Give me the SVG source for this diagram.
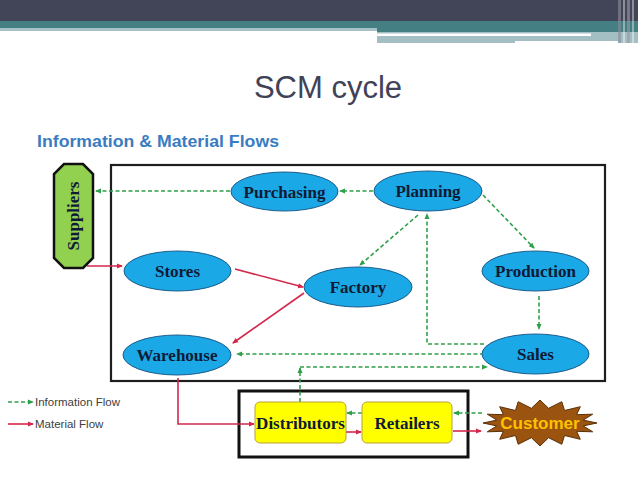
<svg xmlns="http://www.w3.org/2000/svg" width="638" height="479" viewBox="0 0 638 479">
<style>
.ell{fill:#1ba8e6;stroke:#1d5d8a;stroke-width:1}
.nt{font-family:"Liberation Serif","Times New Roman",serif;font-weight:bold;font-size:17px;fill:#0e1a36;text-anchor:middle}
.info{fill:none;stroke:#2fa04a;stroke-width:1.6;stroke-dasharray:4 2.5}
.mat{fill:none;stroke:#d3284c;stroke-width:1.6}
.box{fill:#ffff00;stroke:#b8a23a;stroke-width:1}
.lg{font-family:"Liberation Sans",Arial,sans-serif;font-size:11.5px;fill:#404040}
</style>
<defs>
<marker id="ag" markerWidth="6" markerHeight="6" refX="5" refY="3" orient="auto" markerUnits="userSpaceOnUse"><path d="M0,0.5 L6,3 L0,5.5 Z" fill="#2fa04a"/></marker>
<marker id="ar" markerWidth="6" markerHeight="6" refX="5" refY="3" orient="auto" markerUnits="userSpaceOnUse"><path d="M0,0.5 L6,3 L0,5.5 Z" fill="#d3284c"/></marker>
</defs>
<rect width="638" height="479" fill="#ffffff"/>
<g id="header">
<rect x="0" y="0" width="638" height="21" fill="#424457"/>
<rect x="0" y="21" width="638" height="7" fill="#447f83"/>
<rect x="0" y="28" width="377" height="3" fill="#a7c2c6"/>
<rect x="377" y="28" width="261" height="4" fill="#447f83"/>
<rect x="377" y="32" width="261" height="11" fill="#a3bfc4"/>
<rect x="377" y="33.5" width="214" height="2.5" fill="#ffffff"/>
<rect x="515" y="41" width="103" height="2" fill="#ffffff"/>
<rect x="618" y="0" width="3" height="43" fill="#8c8c99" opacity="0.6"/>
<rect x="623" y="0" width="2" height="43" fill="#ffffff" opacity="0.4"/>
<rect x="627" y="0" width="3" height="43" fill="#9a9aa6" opacity="0.6"/>
<rect x="632" y="0" width="2" height="43" fill="#ffffff" opacity="0.4"/>
</g>
<text x="328" y="98" font-family="Liberation Sans,Arial,sans-serif" font-size="31" fill="#404258" text-anchor="middle">SCM cycle</text>
<text x="37" y="147" font-family="Liberation Sans,Arial,sans-serif" font-weight="bold" font-size="17" fill="#3a7cc0" textLength="242" lengthAdjust="spacingAndGlyphs">Information &amp; Material Flows</text>
<rect x="111" y="165" width="494" height="216" fill="none" stroke="#1e1e1e" stroke-width="2.2"/>
<rect x="239" y="391" width="229" height="66" fill="none" stroke="#111111" stroke-width="3"/>
<g id="connectors">
<path class="info" d="M230,191 H96" marker-end="url(#ag)"/>
<path class="info" d="M373,191 H340" marker-end="url(#ag)"/>
<path class="info" d="M418,215 L360,265" marker-end="url(#ag)"/>
<path class="info" d="M483,195 L534,248" marker-end="url(#ag)"/>
<path class="info" d="M539,296 V329" marker-end="url(#ag)"/>
<path class="info" d="M484,344 H427 V214" marker-end="url(#ag)"/>
<path class="info" d="M484,354 H237" marker-end="url(#ag)"/>
<path class="info" d="M300,402 V368" marker-end="url(#ag)"/>
<path class="info" d="M300,367 H487" marker-end="url(#ag)"/>
<path class="info" d="M362,413 H347" marker-end="url(#ag)"/>
<path class="info" d="M482,413 H454" marker-end="url(#ag)"/>
<path class="mat" d="M87,266 H122" marker-end="url(#ar)"/>
<path class="mat" d="M235,269 L303,287" marker-end="url(#ar)"/>
<path class="mat" d="M304,293 L233,343" marker-end="url(#ar)"/>
<path class="mat" d="M178,378 V424 H254" marker-end="url(#ar)"/>
<path class="mat" d="M346,432 H361" marker-end="url(#ar)"/>
<path class="mat" d="M453,431 H481" marker-end="url(#ar)"/>
</g>
<g id="suppliers">
<path d="M64,164 H83 L93,174 V258 L83,268 H64 L54,258 V174 Z" fill="#92d050" stroke="#111" stroke-width="2.5"/>
<text class="nt" transform="translate(79,216) rotate(-90)" font-size="18">Suppliers</text>
</g>
<g id="purchasing"><ellipse class="ell" cx="284.5" cy="191.5" rx="53.5" ry="19.5"/><text class="nt" x="284.5" y="197.5">Purchasing</text></g>
<g id="planning"><ellipse class="ell" cx="428" cy="191" rx="54" ry="20"/><text class="nt" x="428" y="197">Planning</text></g>
<g id="stores"><ellipse class="ell" cx="177.5" cy="271" rx="53.5" ry="20"/><text class="nt" x="177.5" y="277">Stores</text></g>
<g id="factory"><ellipse class="ell" cx="358" cy="287" rx="54" ry="20"/><text class="nt" x="358" y="293">Factory</text></g>
<g id="production"><ellipse class="ell" cx="535.5" cy="271" rx="53.5" ry="20"/><text class="nt" x="535.5" y="277">Production</text></g>
<g id="sales"><ellipse class="ell" cx="535.5" cy="354" rx="53.5" ry="20"/><text class="nt" x="535.5" y="360">Sales</text></g>
<g id="warehouse"><ellipse class="ell" cx="177" cy="355" rx="54" ry="20"/><text class="nt" x="177" y="361">Warehouse</text></g>
<g id="distributors"><rect class="box" x="255" y="402" width="91" height="41" rx="5"/><text class="nt" x="300.5" y="428.5">Distributors</text></g>
<g id="retailers"><rect class="box" x="362" y="402" width="90" height="41" rx="5"/><text class="nt" x="407" y="428.5">Retailers</text></g>
<g id="customer">
<polygon points="597,423 583.2,425.9 592.7,431.8 576.6,431.3 580.3,439.3 564.5,435.5 561.8,444.3 548.6,437.7 540,446 531.4,437.7 518.2,444.3 515.5,435.5 499.7,439.3 503.4,431.3 487.3,431.8 496.8,425.9 483,423 496.8,420.1 487.3,414.2 503.4,414.7 499.7,406.7 515.5,410.5 518.2,401.7 531.4,408.3 540,400 548.6,408.3 561.8,401.7 564.5,410.5 580.3,406.7 576.6,414.7 592.7,414.2 583.2,420.1" fill="#9a5410" stroke="#5a3008" stroke-width="1"/>
<text x="540" y="429" font-family="Liberation Sans,Arial,sans-serif" font-weight="bold" font-size="17" fill="#ffc000" text-anchor="middle">Customer</text>
</g>
<g id="legend">
<path class="info" d="M8,402 H33" marker-end="url(#ag)"/>
<text class="lg" x="35" y="406">Information Flow</text>
<path class="mat" d="M8,424 H33" marker-end="url(#ar)"/>
<text class="lg" x="35" y="428">Material Flow</text>
</g>
</svg>
